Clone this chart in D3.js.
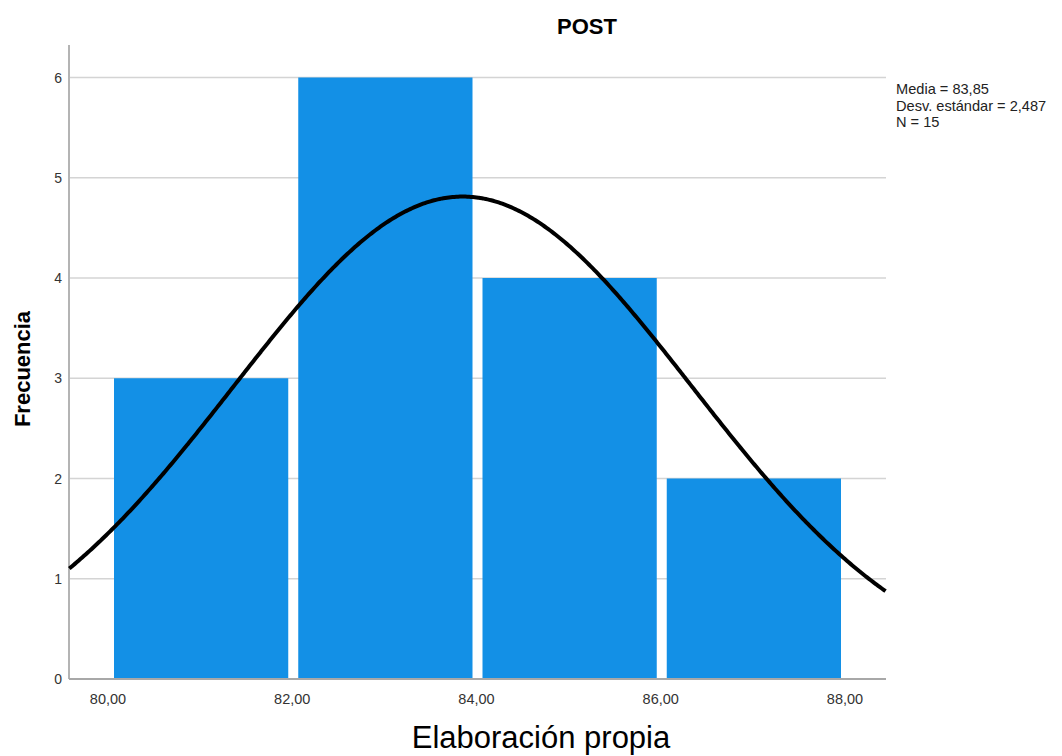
<!DOCTYPE html>
<html>
<head>
<meta charset="utf-8">
<script src="https://cdnjs.cloudflare.com/ajax/libs/d3/7.8.5/d3.min.js"></script>
<style>
body { margin: 0; background: #fff; }
svg { display: block; font-family: Arial, "Liberation Sans", sans-serif; }
</style>
</head>
<body>
<div id="chart"></div>
<script>
var binStarts = [80, 82, 84, 86]
var binEnds = [82, 84, 86, 88]
var counts = [3, 6, 4, 2]
var xTicks = [80, 82, 84, 86, 88]
var yTicks = [0, 1, 2, 3, 4, 5, 6]
var mean = 83.85
var sd = 2.487
var n = 15
var statLines = ["Media = 83,85", "Desv. estándar = 2,487", "N = 15"]

var width = 1062, height = 756
var svg = d3.select("#chart").append("svg")
    .attr("width", width)
    .attr("height", height)

var plotLeft = 69, plotRight = 886, plotTop = 45, plotBottom = 679

var x = d3.scaleLinear().domain([80, 88]).range([108, 845])
var y = d3.scaleLinear().domain([0, 6]).range([plotBottom, 77.5])

// gridlines
svg.selectAll("line.grid")
    .data(yTicks.slice(1))
    .enter()
    .append("line")
    .attr("class", "grid")
    .attr("x1", plotLeft)
    .attr("x2", plotRight)
    .attr("y1", function(d) { return y(d) })
    .attr("y2", function(d) { return y(d) })
    .attr("stroke", "#d4d4d4")
    .attr("stroke-width", 1.5)

// bars
var data = counts.map(function(c, i) { return {x0: binStarts[i], x1: binEnds[i], c: c} })
svg.selectAll("rect")
    .data(data)
    .enter()
    .append("rect")
    .attr("x", function(d) { return x(d.x0) + 6 })
    .attr("y", function(d) { return y(d.c) })
    .attr("width", function(d) { return x(d.x1) - x(d.x0) - 10 })
    .attr("height", function(d) { return y(0) - y(d.c) })
    .attr("fill", "#1390e6")

// axes
svg.append("line")
    .attr("x1", plotLeft).attr("x2", plotLeft)
    .attr("y1", plotTop).attr("y2", plotBottom)
    .attr("stroke", "#b4b4b4").attr("stroke-width", 2)
svg.append("line")
    .attr("x1", plotLeft).attr("x2", plotRight)
    .attr("y1", plotBottom).attr("y2", plotBottom)
    .attr("stroke", "#a8a8a8").attr("stroke-width", 2)

svg.selectAll("text.ytick")
    .data(yTicks)
    .enter()
    .append("text")
    .attr("class", "ytick")
    .attr("x", 62)
    .attr("y", function(d) { return y(d) + 5 })
    .attr("text-anchor", "end")
    .attr("font-size", 14)
    .attr("fill", "#333")
    .text(function(d) { return d })

svg.selectAll("text.xtick")
    .data(xTicks)
    .enter()
    .append("text")
    .attr("class", "xtick")
    .attr("x", function(d) { return x(d) })
    .attr("y", 704)
    .attr("text-anchor", "middle")
    .attr("font-size", 14.5)
    .attr("fill", "#333")
    .text(function(d) { return d3.format(".2f")(d).replace(".", ",") })

// normal curve
var xs = d3.range(79.58, 88.46, 0.02)
var peak = n * 2 / (sd * Math.sqrt(2 * Math.PI))
var line = d3.line()
    .x(function(d) { return x(d) })
    .y(function(d) { return y(peak * Math.exp(-0.5 * Math.pow((d - mean) / sd, 2))) })
    .curve(d3.curveBasis)
svg.append("path")
    .datum(xs)
    .attr("d", line)
    .attr("fill", "none")
    .attr("stroke", "#000")
    .attr("stroke-width", 4)

// titles
svg.append("text")
    .attr("x", 587).attr("y", 34)
    .attr("text-anchor", "middle")
    .attr("font-size", 22)
    .attr("font-weight", "bold")
    .text("POST")

svg.append("text")
    .attr("transform", "translate(30,369) rotate(-90)")
    .attr("text-anchor", "middle")
    .attr("font-size", 22)
    .attr("font-weight", "bold")
    .text("Frecuencia")

svg.append("text")
    .attr("x", 541).attr("y", 748)
    .attr("text-anchor", "middle")
    .attr("font-size", 31)
    .text("Elaboración propia")

svg.selectAll("text.stat")
    .data(statLines)
    .enter()
    .append("text")
    .attr("class", "stat")
    .attr("x", 896)
    .attr("y", function(d, i) { return 94 + i * 16.5 })
    .attr("font-size", 14.6)
    .attr("fill", "#222")
    .text(function(d) { return d })
</script>
</body>
</html>
